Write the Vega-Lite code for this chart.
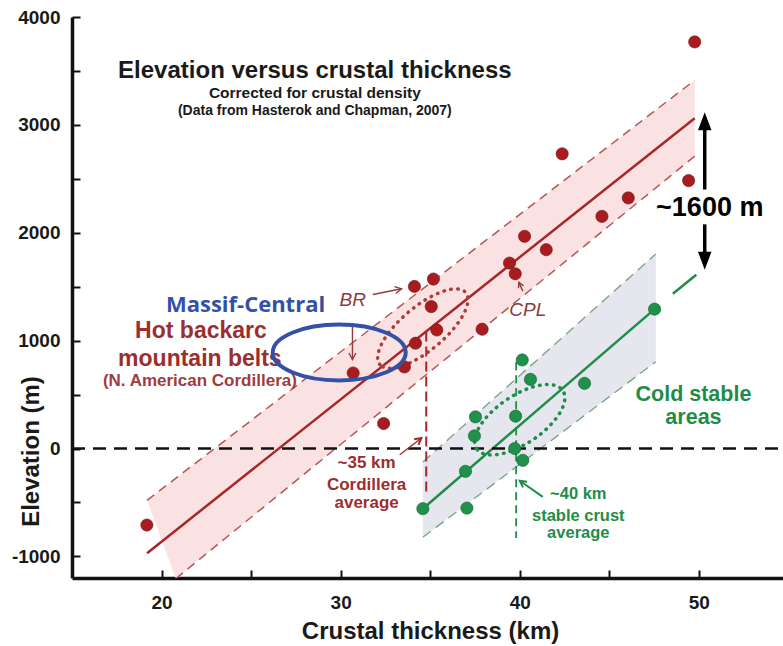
{
  "$schema": "https://vega.github.io/schema/vega-lite/v6.json",
  "width": 711,
  "height": 561,
  "autosize": {"type": "none"},
  "padding": {"left": 72, "top": 17, "right": 0, "bottom": 68},
  "background": "white",
  "config": {
    "view": {"stroke": null},
    "axis": {
      "grid": false,
      "domainColor": "#111111",
      "domainWidth": 3.5,
      "tickColor": "#111111",
      "tickWidth": 2,
      "labelFont": "Liberation Sans",
      "labelFontSize": 19,
      "labelFontWeight": "bold",
      "labelColor": "#1a1a1a",
      "labelFlush": false,
      "labelOverlap": false,
      "titleFont": "Liberation Sans",
      "titleFontSize": 24,
      "titleFontWeight": "bold",
      "titleColor": "#1a1a1a"
    },
    "text": {"font": "Liberation Sans"}
  },
  "datasets": {
    "red": [
      {"x": 19.18, "y": -709}, {"x": 30.7, "y": 700}, {"x": 32.4, "y": 232},
      {"x": 33.56, "y": 756}, {"x": 34.18, "y": 976}, {"x": 34.12, "y": 1502},
      {"x": 35.18, "y": 1571}, {"x": 35.06, "y": 1316}, {"x": 35.37, "y": 1099},
      {"x": 37.9, "y": 1106}, {"x": 39.43, "y": 1719}, {"x": 39.75, "y": 1620},
      {"x": 40.27, "y": 1967}, {"x": 41.48, "y": 1843}, {"x": 42.37, "y": 2732},
      {"x": 44.59, "y": 2152}, {"x": 46.06, "y": 2323}, {"x": 49.43, "y": 2484},
      {"x": 49.77, "y": 3769}
    ],
    "green": [
      {"x": 34.59, "y": -558}, {"x": 37.05, "y": -552}, {"x": 36.97, "y": -211},
      {"x": 37.47, "y": 117}, {"x": 37.53, "y": 294}, {"x": 39.72, "y": 0},
      {"x": 40.17, "y": -109}, {"x": 39.77, "y": 300}, {"x": 40.6, "y": 641},
      {"x": 40.14, "y": 821}, {"x": 43.62, "y": 604}, {"x": 47.53, "y": 1292}
    ],
    "bands": [
      {"grp": "red", "x": 19.19, "lo": -480, "hi": -480},
      {"grp": "red", "x": 20.8, "lo": -1205, "hi": -275},
      {"grp": "red", "x": 49.77, "lo": 2710, "hi": 3414},
      {"grp": "green", "x": 34.59, "lo": -822, "hi": -125},
      {"grp": "green", "x": 47.6, "lo": 805, "hi": 1803}
    ],
    "lines": [
      {"id": "ru", "x": 19.19, "y": -480}, {"id": "ru", "x": 49.77, "y": 3414},
      {"id": "rl", "x": 20.8, "y": -1205}, {"id": "rl", "x": 49.77, "y": 2710},
      {"id": "rf", "x": 19.19, "y": -970}, {"id": "rf", "x": 49.77, "y": 3062},
      {"id": "gu", "x": 34.59, "y": -125}, {"id": "gu", "x": 47.6, "y": 1803},
      {"id": "gl", "x": 34.59, "y": -822}, {"id": "gl", "x": 47.6, "y": 805},
      {"id": "gf", "x": 34.59, "y": -558}, {"id": "gf", "x": 47.53, "y": 1292},
      {"id": "ge", "x": 48.55, "y": 1434}, {"id": "ge", "x": 49.86, "y": 1611},
      {"id": "zero", "x": 15, "y": 0}, {"id": "zero", "x": 54.7, "y": 0},
      {"id": "rv", "x": 34.78, "y": 1085}, {"id": "rv", "x": 34.78, "y": -430},
      {"id": "gv", "x": 39.8, "y": 800}, {"id": "gv", "x": 39.8, "y": -830}
    ],
    "ellipses": [
      {"id": "red", "x": 34.59, "y": 1112},
      {"id": "green", "x": 40.0, "y": 267},
      {"id": "blue", "x": 29.92, "y": 890}
    ],
    "arrows": [
      {"id": "br1", "x": 31.8, "y": 1428, "x2": 33.4, "y2": 1481},
      {"id": "br2", "x": 30.66, "y": 1134, "x2": 30.66, "y2": 825},
      {"id": "cpl", "x": 40.17, "y": 1459, "x2": 39.95, "y2": 1540},
      {"id": "c35", "x": 33.3, "y": -57, "x2": 34.51, "y2": 97},
      {"id": "s40", "x": 41.29, "y": -448, "x2": 40.0, "y2": -299},
      {"id": "up", "x": 50.33, "y": 2401, "x2": 50.33, "y2": 3040},
      {"id": "down", "x": 50.33, "y": 2078, "x2": 50.33, "y2": 1740}
    ],
    "heads": [
      {"id": "br1", "x": 33.4, "y": 1481},
      {"id": "br2", "x": 30.66, "y": 825},
      {"id": "cpl", "x": 39.95, "y": 1540},
      {"id": "c35", "x": 34.51, "y": 97},
      {"id": "s40", "x": 40.0, "y": -299},
      {"id": "up", "x": 50.33, "y": 3118},
      {"id": "down", "x": 50.33, "y": 1657}
    ],
    "texts": [
      {"k": "title", "x": 28.56, "y": 3434, "t": "Elevation versus crustal thickness"},
      {"k": "sub1", "x": 28.56, "y": 3245, "t": "Corrected for crustal density"},
      {"k": "sub2", "x": 28.56, "y": 3095, "t": "(Data from Hasterok and Chapman, 2007)"},
      {"k": "big", "x": 50.61, "y": 2153, "t": "~1600 m"},
      {"k": "massif", "x": 24.69, "y": 1261, "t": "Massif-Central"},
      {"k": "ital", "x": 30.68, "y": 1317, "t": "BR"},
      {"k": "ital", "x": 40.45, "y": 1227, "t": "CPL"},
      {"k": "hot", "x": 22.2, "y": 1026, "t": "Hot backarc"},
      {"k": "hot", "x": 22.14, "y": 762, "t": "mountain belts"},
      {"k": "nac", "x": 22.14, "y": 577, "t": "(N. American Cordillera)"},
      {"k": "cord", "x": 31.45, "y": -181, "t": "~35 km"},
      {"k": "cord", "x": 31.45, "y": -383, "t": "Cordillera"},
      {"k": "cord", "x": 31.45, "y": -548, "t": "average"},
      {"k": "stab", "x": 43.27, "y": -469, "t": "~40 km"},
      {"k": "stab", "x": 43.27, "y": -668, "t": "stable crust"},
      {"k": "stab", "x": 43.27, "y": -825, "t": "average"},
      {"k": "cold", "x": 49.7, "y": 440, "t": "Cold stable"},
      {"k": "cold", "x": 49.7, "y": 232, "t": "areas"}
    ]
  },
  "layer": [
    {
      "data": {"name": "bands"},
      "transform": [{"filter": "datum.grp === 'red'"}],
      "mark": {"type": "area", "color": "#fbe2e2", "clip": true},
      "encoding": {
        "x": {
          "field": "x", "type": "quantitative",
          "scale": {"domain": [15, 54.7], "nice": false, "zero": false},
          "axis": {
            "orient": "bottom", "values": [20, 25, 30, 35, 40, 45, 50], "ticks": true, "tickSize": -8, "domain": true,
            "labelPadding": 23, "labelExpr": "datum.value % 10 === 0 ? '' + datum.value : ''",
            "title": "Crustal thickness (km)", "titleY": 60, "titleX": 358,
            "titleBaseline": "alphabetic", "titleAlign": "center"
          }
        },
        "y": {
          "field": "hi", "type": "quantitative",
          "scale": {"domain": [-1200, 4000], "nice": false, "zero": false},
          "axis": {
            "orient": "left", "values": [-1000, -500, 0, 500, 1000, 1500, 2000, 2500, 3000, 3500, 4000], "ticks": true, "tickSize": -8, "domain": true,
            "labelPadding": 20, "labelExpr": "datum.value % 1000 === 0 ? '' + datum.value : ''",
            "title": "Elevation (m)", "titleX": -34, "titleY": 434, "titleAngle": 270,
            "titleBaseline": "alphabetic", "titleAlign": "center"
          }
        },
        "y2": {"field": "lo"}
      }
    },
    {
      "data": {"name": "bands"},
      "transform": [{"filter": "datum.grp === 'green'"}],
      "mark": {"type": "area", "color": "#e6e6ef", "clip": true},
      "encoding": {
        "x": {"field": "x", "type": "quantitative"},
        "y": {"field": "hi", "type": "quantitative"},
        "y2": {"field": "lo"}
      }
    },
    {
      "data": {"name": "lines"},
      "transform": [{"filter": "datum.id === 'ru' || datum.id === 'rl'"}],
      "mark": {"type": "line", "color": "#b65656", "strokeWidth": 1.5, "strokeDash": [9, 6], "clip": true},
      "encoding": {
        "x": {"field": "x", "type": "quantitative"},
        "y": {"field": "y", "type": "quantitative"},
        "detail": {"field": "id"}
      }
    },
    {
      "data": {"name": "lines"},
      "transform": [{"filter": "datum.id === 'gu' || datum.id === 'gl'"}],
      "mark": {"type": "line", "color": "#7aa68b", "strokeWidth": 1.4, "strokeDash": [10, 6], "clip": true},
      "encoding": {
        "x": {"field": "x", "type": "quantitative"},
        "y": {"field": "y", "type": "quantitative"},
        "detail": {"field": "id"}
      }
    },
    {
      "data": {"name": "lines"},
      "transform": [{"filter": "datum.id === 'rf'"}],
      "mark": {"type": "line", "color": "#a8262a", "strokeWidth": 2.5, "clip": true},
      "encoding": {
        "x": {"field": "x", "type": "quantitative"},
        "y": {"field": "y", "type": "quantitative"}
      }
    },
    {
      "data": {"name": "lines"},
      "transform": [{"filter": "datum.id === 'gf' || datum.id === 'ge'"}],
      "mark": {"type": "line", "color": "#1f8c4a", "strokeWidth": 2.5, "clip": true},
      "encoding": {
        "x": {"field": "x", "type": "quantitative"},
        "y": {"field": "y", "type": "quantitative"},
        "detail": {"field": "id"}
      }
    },
    {
      "data": {"name": "lines"},
      "transform": [{"filter": "datum.id === 'zero'"}],
      "mark": {"type": "line", "color": "#111111", "strokeWidth": 2.5, "strokeDash": [13, 8], "clip": true},
      "encoding": {
        "x": {"field": "x", "type": "quantitative"},
        "y": {"field": "y", "type": "quantitative"}
      }
    },
    {
      "data": {"name": "lines"},
      "transform": [{"filter": "datum.id === 'rv'"}],
      "mark": {"type": "line", "color": "#a8262a", "strokeWidth": 2, "strokeDash": [10, 5], "clip": true},
      "encoding": {
        "x": {"field": "x", "type": "quantitative"},
        "y": {"field": "y", "type": "quantitative"}
      }
    },
    {
      "data": {"name": "lines"},
      "transform": [{"filter": "datum.id === 'gv'"}],
      "mark": {"type": "line", "color": "#1f8c4a", "strokeWidth": 1.8, "strokeDash": [8, 5], "clip": true},
      "encoding": {
        "x": {"field": "x", "type": "quantitative"},
        "y": {"field": "y", "type": "quantitative"}
      }
    },
    {
      "data": {"name": "ellipses"},
      "transform": [{"filter": "datum.id === 'red'"}],
      "mark": {
        "type": "point", "filled": false, "stroke": "#b03a3a", "strokeWidth": 3.5,
        "strokeDash": [0.5, 6.5], "strokeCap": "round", "opacity": 1,
        "size": 12544, "angle": -40,
        "shape": "M-1,0C-1,-0.2154 -0.5523,-0.39 0,-0.39C0.5523,-0.39 1,-0.2154 1,0C1,0.2154 0.5523,0.39 0,0.39C-0.5523,0.39 -1,0.2154 -1,0Z"
      },
      "encoding": {
        "x": {"field": "x", "type": "quantitative"},
        "y": {"field": "y", "type": "quantitative"}
      }
    },
    {
      "data": {"name": "ellipses"},
      "transform": [{"filter": "datum.id === 'green'"}],
      "mark": {
        "type": "point", "filled": false, "stroke": "#1f8c4a", "strokeWidth": 3.5,
        "strokeDash": [0.5, 6.5], "strokeCap": "round", "opacity": 1,
        "size": 10816, "angle": -34,
        "shape": "M-1,0C-1,-0.2541 -0.5523,-0.46 0,-0.46C0.5523,-0.46 1,-0.2541 1,0C1,0.2541 0.5523,0.46 0,0.46C-0.5523,0.46 -1,0.2541 -1,0Z"
      },
      "encoding": {
        "x": {"field": "x", "type": "quantitative"},
        "y": {"field": "y", "type": "quantitative"}
      }
    },
    {
      "data": {"name": "red"},
      "mark": {"type": "circle", "size": 150, "color": "#a81c20", "stroke": "#6e1010", "strokeWidth": 0.6, "opacity": 1},
      "encoding": {
        "x": {"field": "x", "type": "quantitative"},
        "y": {"field": "y", "type": "quantitative"}
      }
    },
    {
      "data": {"name": "green"},
      "mark": {"type": "circle", "size": 150, "color": "#1f914a", "stroke": "#0f5f2f", "strokeWidth": 0.6, "opacity": 1},
      "encoding": {
        "x": {"field": "x", "type": "quantitative"},
        "y": {"field": "y", "type": "quantitative"}
      }
    },
    {
      "data": {"name": "arrows"},
      "transform": [{"filter": "datum.id === 'br1' || datum.id === 'br2' || datum.id === 'cpl' || datum.id === 'c35'"}],
      "mark": {"type": "rule", "color": "#943c3c", "strokeWidth": 1.4},
      "encoding": {
        "x": {"field": "x", "type": "quantitative"},
        "y": {"field": "y", "type": "quantitative"},
        "x2": {"field": "x2"},
        "y2": {"field": "y2"}
      }
    },
    {
      "data": {"name": "arrows"},
      "transform": [{"filter": "datum.id === 's40'"}],
      "mark": {"type": "rule", "color": "#1f8c4a", "strokeWidth": 2},
      "encoding": {
        "x": {"field": "x", "type": "quantitative"},
        "y": {"field": "y", "type": "quantitative"},
        "x2": {"field": "x2"},
        "y2": {"field": "y2"}
      }
    },
    {
      "data": {"name": "arrows"},
      "transform": [{"filter": "datum.id === 'up' || datum.id === 'down'"}],
      "mark": {"type": "rule", "color": "#000000", "strokeWidth": 3.5},
      "encoding": {
        "x": {"field": "x", "type": "quantitative"},
        "y": {"field": "y", "type": "quantitative"},
        "x2": {"field": "x2"},
        "y2": {"field": "y2"}
      }
    },
    {
      "data": {"name": "heads"},
      "transform": [{"filter": "datum.id === 'br1'"}],
      "mark": {"type": "point", "filled": false, "stroke": "#943c3c", "strokeWidth": 1.4, "opacity": 1, "size": 100, "angle": 79, "shape": "M-0.7,1.3L0,0L0.7,1.3"},
      "encoding": {
        "x": {"field": "x", "type": "quantitative"},
        "y": {"field": "y", "type": "quantitative"}
      }
    },
    {
      "data": {"name": "heads"},
      "transform": [{"filter": "datum.id === 'br2'"}],
      "mark": {"type": "point", "filled": false, "stroke": "#943c3c", "strokeWidth": 1.4, "opacity": 1, "size": 100, "angle": 180, "shape": "M-0.7,1.3L0,0L0.7,1.3"},
      "encoding": {
        "x": {"field": "x", "type": "quantitative"},
        "y": {"field": "y", "type": "quantitative"}
      }
    },
    {
      "data": {"name": "heads"},
      "transform": [{"filter": "datum.id === 'cpl'"}],
      "mark": {"type": "point", "filled": false, "stroke": "#943c3c", "strokeWidth": 1.4, "opacity": 1, "size": 64, "angle": -25, "shape": "M-0.7,1.3L0,0L0.7,1.3"},
      "encoding": {
        "x": {"field": "x", "type": "quantitative"},
        "y": {"field": "y", "type": "quantitative"}
      }
    },
    {
      "data": {"name": "heads"},
      "transform": [{"filter": "datum.id === 'c35'"}],
      "mark": {"type": "point", "filled": false, "stroke": "#a8262a", "strokeWidth": 2, "opacity": 1, "size": 100, "angle": 52, "shape": "M-0.7,1.3L0,0L0.7,1.3"},
      "encoding": {
        "x": {"field": "x", "type": "quantitative"},
        "y": {"field": "y", "type": "quantitative"}
      }
    },
    {
      "data": {"name": "heads"},
      "transform": [{"filter": "datum.id === 's40'"}],
      "mark": {"type": "point", "filled": false, "stroke": "#1f8c4a", "strokeWidth": 2, "opacity": 1, "size": 100, "angle": -55, "shape": "M-0.7,1.3L0,0L0.7,1.3"},
      "encoding": {
        "x": {"field": "x", "type": "quantitative"},
        "y": {"field": "y", "type": "quantitative"}
      }
    },
    {
      "data": {"name": "heads"},
      "transform": [{"filter": "datum.id === 'up'"}],
      "mark": {"type": "point", "filled": true, "color": "#000000", "opacity": 1, "size": 324, "angle": 0, "shape": "M0,0L-0.75,2L0.75,2Z"},
      "encoding": {
        "x": {"field": "x", "type": "quantitative"},
        "y": {"field": "y", "type": "quantitative"}
      }
    },
    {
      "data": {"name": "heads"},
      "transform": [{"filter": "datum.id === 'down'"}],
      "mark": {"type": "point", "filled": true, "color": "#000000", "opacity": 1, "size": 324, "angle": 180, "shape": "M0,0L-0.75,2L0.75,2Z"},
      "encoding": {
        "x": {"field": "x", "type": "quantitative"},
        "y": {"field": "y", "type": "quantitative"}
      }
    },
    {
      "data": {"name": "texts"},
      "transform": [{"filter": "datum.k === 'title'"}],
      "mark": {"type": "text", "fontSize": 24, "fontWeight": "bold", "color": "#1a1a1a", "align": "center", "baseline": "alphabetic"},
      "encoding": {
        "x": {"field": "x", "type": "quantitative"},
        "y": {"field": "y", "type": "quantitative"},
        "text": {"field": "t"}
      }
    },
    {
      "data": {"name": "texts"},
      "transform": [{"filter": "datum.k === 'sub1'"}],
      "mark": {"type": "text", "fontSize": 15.5, "fontWeight": "bold", "color": "#1a1a1a", "align": "center", "baseline": "alphabetic"},
      "encoding": {
        "x": {"field": "x", "type": "quantitative"},
        "y": {"field": "y", "type": "quantitative"},
        "text": {"field": "t"}
      }
    },
    {
      "data": {"name": "texts"},
      "transform": [{"filter": "datum.k === 'sub2'"}],
      "mark": {"type": "text", "fontSize": 14, "fontWeight": "bold", "color": "#1a1a1a", "align": "center", "baseline": "alphabetic"},
      "encoding": {
        "x": {"field": "x", "type": "quantitative"},
        "y": {"field": "y", "type": "quantitative"},
        "text": {"field": "t"}
      }
    },
    {
      "data": {"name": "texts"},
      "transform": [{"filter": "datum.k === 'big'"}],
      "mark": {"type": "text", "fontSize": 27, "fontWeight": "bold", "color": "#000000", "align": "center", "baseline": "alphabetic"},
      "encoding": {
        "x": {"field": "x", "type": "quantitative"},
        "y": {"field": "y", "type": "quantitative"},
        "text": {"field": "t"}
      }
    },
    {
      "data": {"name": "texts"},
      "transform": [{"filter": "datum.k === 'ital'"}],
      "mark": {"type": "text", "fontSize": 19, "fontStyle": "italic", "color": "#8e3a3a", "align": "center", "baseline": "alphabetic"},
      "encoding": {
        "x": {"field": "x", "type": "quantitative"},
        "y": {"field": "y", "type": "quantitative"},
        "text": {"field": "t"}
      }
    },
    {
      "data": {"name": "texts"},
      "transform": [{"filter": "datum.k === 'hot'"}],
      "mark": {"type": "text", "fontSize": 23, "fontWeight": "bold", "color": "#9c2e2e", "align": "center", "baseline": "alphabetic"},
      "encoding": {
        "x": {"field": "x", "type": "quantitative"},
        "y": {"field": "y", "type": "quantitative"},
        "text": {"field": "t"}
      }
    },
    {
      "data": {"name": "texts"},
      "transform": [{"filter": "datum.k === 'nac'"}],
      "mark": {"type": "text", "fontSize": 17, "fontWeight": "bold", "color": "#a03c3c", "align": "center", "baseline": "alphabetic"},
      "encoding": {
        "x": {"field": "x", "type": "quantitative"},
        "y": {"field": "y", "type": "quantitative"},
        "text": {"field": "t"}
      }
    },
    {
      "data": {"name": "texts"},
      "transform": [{"filter": "datum.k === 'cord'"}],
      "mark": {"type": "text", "fontSize": 17, "fontWeight": "bold", "color": "#9c2e2e", "align": "center", "baseline": "alphabetic"},
      "encoding": {
        "x": {"field": "x", "type": "quantitative"},
        "y": {"field": "y", "type": "quantitative"},
        "text": {"field": "t"}
      }
    },
    {
      "data": {"name": "texts"},
      "transform": [{"filter": "datum.k === 'stab'"}],
      "mark": {"type": "text", "fontSize": 16.5, "fontWeight": "bold", "color": "#1f8c4a", "align": "center", "baseline": "alphabetic"},
      "encoding": {
        "x": {"field": "x", "type": "quantitative"},
        "y": {"field": "y", "type": "quantitative"},
        "text": {"field": "t"}
      }
    },
    {
      "data": {"name": "texts"},
      "transform": [{"filter": "datum.k === 'cold'"}],
      "mark": {"type": "text", "fontSize": 21.5, "fontWeight": "bold", "color": "#1f8c4a", "align": "center", "baseline": "alphabetic"},
      "encoding": {
        "x": {"field": "x", "type": "quantitative"},
        "y": {"field": "y", "type": "quantitative"},
        "text": {"field": "t"}
      }
    },
    {
      "data": {"name": "texts"},
      "transform": [{"filter": "datum.k === 'massif'"}],
      "mark": {"type": "text", "font": "Open Sans", "fontSize": 22, "fontWeight": "bold", "color": "#3451a8", "align": "center", "baseline": "alphabetic"},
      "encoding": {
        "x": {"field": "x", "type": "quantitative"},
        "y": {"field": "y", "type": "quantitative"},
        "text": {"field": "t"}
      }
    },
    {
      "data": {"name": "ellipses"},
      "transform": [{"filter": "datum.id === 'blue'"}],
      "mark": {
        "type": "point", "filled": false, "stroke": "#3451a8", "strokeWidth": 4, "opacity": 1,
        "size": 17689, "angle": 0,
        "shape": "M-1,0C-1,-0.232 -0.5523,-0.42 0,-0.42C0.5523,-0.42 1,-0.232 1,0C1,0.232 0.5523,0.42 0,0.42C-0.5523,0.42 -1,0.232 -1,0Z"
      },
      "encoding": {
        "x": {"field": "x", "type": "quantitative"},
        "y": {"field": "y", "type": "quantitative"}
      }
    }
  ]
}
